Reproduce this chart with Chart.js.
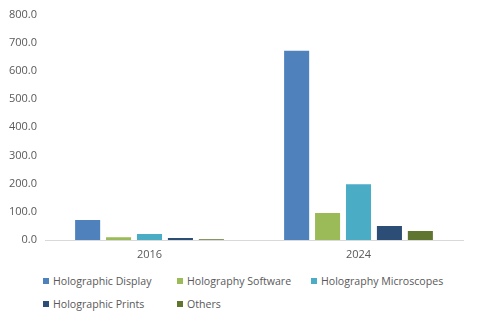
<!DOCTYPE html>
<html>
<head>
<meta charset="utf-8">
<script src="https://cdn.jsdelivr.net/npm/chart.js@4"></script>
<style>
  html, body { margin: 0; padding: 0; background: #fff; }
  #wrap { width: 480px; height: 322px; position: relative; }
  #chartBox { width: 480px; height: 262px; position: relative; }
  #legend {
    position: absolute; left: 43px; top: 273px;
    display: grid; grid-template-columns: 134px 134px 150px;
    row-gap: 7px;
    font-family: "Open Sans", "Liberation Sans", sans-serif;
    font-size: 10.6px; color: #595959; line-height: 16px;
  }
  #legend span.box {
    display: inline-block; width: 6px; height: 6px; margin-right: 4px;
    vertical-align: middle; position: relative; top: -1px;
  }
</style>
</head>
<body>
<div id="wrap">
  <div id="chartBox"><canvas id="myChart"></canvas></div>
  <div id="legend"></div>
</div>
<script>
const years = ["2016", "2024"];
const seriesNames = ["Holographic Display", "Holography Software", "Holography Microscopes", "Holographic Prints", "Others"];
const holoDisplay = [71, 672];
const holoSoftware = [10, 96];
const holoMicroscopes = [21, 198];
const holoPrints = [7, 50];
const others = [3, 32];
const yTicks = [0, 100, 200, 300, 400, 500, 600, 700, 800];

const colors = ["#4F81BD", "#9BBB59", "#4BACC6", "#2C4D75", "#5F7530"];
const values = [holoDisplay, holoSoftware, holoMicroscopes, holoPrints, others];

const tickFont = { family: "'Open Sans', 'Liberation Sans', sans-serif", size: 11 };

const chart = new Chart(document.getElementById("myChart"), {
  type: "bar",
  data: {
    labels: years,
    datasets: seriesNames.map((name, i) => ({
      label: name,
      data: values[i],
      backgroundColor: colors[i],
      categoryPercentage: 0.74,
      barPercentage: 0.81,
    })),
  },
  options: {
    responsive: true,
    maintainAspectRatio: false,
    animation: false,
    layout: { padding: { top: 14, right: 17, left: 0, bottom: 0 } },
    plugins: { legend: { display: false }, tooltip: { enabled: false } },
    scales: {
      x: {
        grid: { display: false, drawTicks: false },
        border: { display: true, color: "#D9D9D9", width: 1 },
        ticks: { color: "#595959", font: tickFont, padding: 8 },
        afterFit: (scale) => { scale.height = 22; },
      },
      y: {
        min: 0,
        max: 800,
        afterBuildTicks: (scale) => { scale.ticks = yTicks.map((v) => ({ value: v })); },
        grid: { display: false, drawTicks: false },
        border: { display: false },
        ticks: {
          color: "#595959",
          font: tickFont,
          padding: 8,
          callback: (v) => Number(v).toFixed(1),
        },
        afterFit: (scale) => { scale.width = 45; },
      },
    },
  },
});

// legend drawn as html, grid aligned like the original
const legendEl = document.getElementById("legend");
seriesNames.forEach((name, i) => {
  const item = document.createElement("div");
  item.innerHTML = `<span class="box" style="background:${colors[i]}"></span>${name}`;
  legendEl.appendChild(item);
});
</script>
</body>
</html>
